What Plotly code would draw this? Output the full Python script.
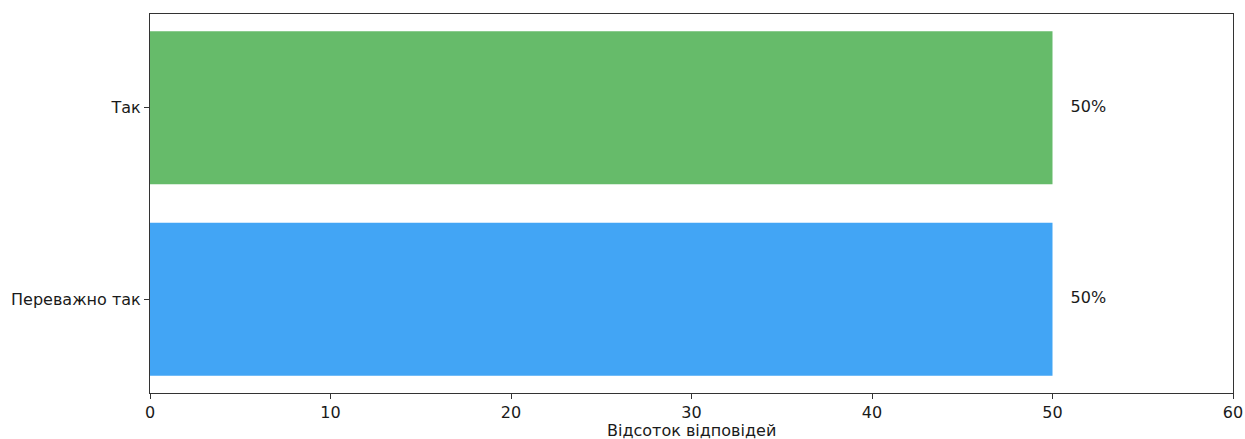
import plotly.graph_objects as go

categories = ["Переважно так", "Так"]
values = [50, 50]
colors = ["#42A5F5", "#66BB6A"]
labels = ["50%", "50%"]
label_offset = 1
x_ticks = [0, 10, 20, 30, 40, 50, 60]
x_title = "Відсоток відповідей"

font = dict(family="DejaVu Sans", size=16, color="#1a1a1a")

fig = go.Figure()
fig.add_trace(go.Bar(
    y=categories, x=values, orientation="h",
    marker=dict(color=colors, line=dict(width=0)),
    width=0.8, hoverinfo="skip",
))
fig.add_trace(go.Scatter(
    y=categories, x=[v + label_offset for v in values],
    mode="text", text=labels, textposition="middle right",
    textfont=font, hoverinfo="skip", cliponaxis=False,
))

fig.update_layout(
    width=1245, height=439,
    margin=dict(l=150, r=12, t=14, b=46),
    plot_bgcolor="white", paper_bgcolor="white",
    showlegend=False, font=font,
)
fig.add_annotation(
    text=x_title, xref="paper", yref="paper", x=0.5, y=0,
    xanchor="center", yanchor="middle", yshift=-37, showarrow=False, font=font,
)
fig.update_xaxes(
    range=[0, 60], tickvals=x_ticks, ticks="outside", ticklen=5, tickwidth=1.2,
    tickcolor="#333", showline=True, linecolor="#333", linewidth=1.2, mirror=True,
    showgrid=False, zeroline=False, automargin=False,
)
fig.update_yaxes(
    type="category", range=[-0.49, 1.49], ticks="outside", ticklen=5, tickwidth=1.2,
    tickcolor="#333", showline=True, linecolor="#333", linewidth=1.2, mirror=True,
    showgrid=False, zeroline=False, automargin=False,
)
fig.write_html(
    "out.html",
    config={"displayModeBar": False},
    post_script="document.body.style.margin='0';document.body.style.overflow='hidden';",
)
